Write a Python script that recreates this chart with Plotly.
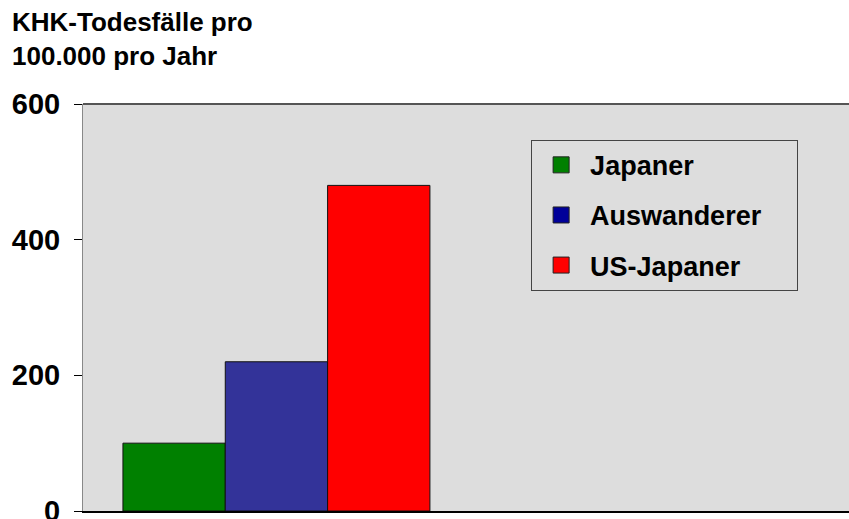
import plotly.graph_objects as go

# Coronary heart disease deaths per 100,000 per year
groups = ["Japaner", "Auswanderer", "US-Japaner"]
deaths = [100, 220, 480]
bar_colors = ["#008000", "#333399", "#FF0000"]
legend_colors = ["#008000", "#000099", "#FF0000"]
category = ["KHK"]
y_ticks = [0, 200, 400, 600]

FONT = "Liberation Sans, Arial, sans-serif"
PAD = "\u00a0" * 4  # right padding inside the legend box

fig = go.Figure()

for name, val, col, lcol in zip(groups, deaths, bar_colors, legend_colors):
    fig.add_trace(go.Bar(
        x=category, y=[val], name=name,
        marker=dict(color=col, line=dict(color="#111111", width=1)),
        showlegend=False, legendgroup=name,
    ))
    # legend entry with a larger square swatch
    fig.add_trace(go.Scatter(
        x=[None], y=[None], mode="markers", name=name + PAD, legendgroup=name,
        marker=dict(symbol="square", size=16, color=lcol,
                    line=dict(color="#222222", width=1)),
    ))

fig.update_layout(
    width=849, height=519,
    margin=dict(l=83, r=0, t=104, b=8),
    paper_bgcolor="white",
    plot_bgcolor="#DDDDDD",
    barmode="group",
    bargap=0.2065,
    bargroupgap=0,
    font=dict(family=FONT, color="black"),
    title=dict(
        text="<b>KHK-Todesfälle pro<br>100.000 pro Jahr</b>",
        x=12 / 849, xanchor="left", xref="container",
        y=1 - 31 / 519, yanchor="top", yref="container",
        font=dict(family=FONT, size=26, color="black"),
    ),
    legend=dict(
        x=0.585, y=0.912, xanchor="left", yanchor="top",
        bgcolor="#DDDDDD", bordercolor="#444444", borderwidth=1,
        font=dict(family=FONT, size=27, color="black", weight="bold"),
        itemsizing="trace", itemwidth=48, tracegroupgap=12,
    ),
    xaxis=dict(
        type="category", range=[-0.5, 1.48],
        showticklabels=False, ticks="",
        showline=True, linecolor="black", linewidth=2,
        showgrid=False, zeroline=False, fixedrange=True,
        automargin=False,
    ),
    yaxis=dict(
        range=[0, 600], tickvals=y_ticks,
        ticks="outside", ticklen=8, tickcolor="black", tickwidth=1,
        ticklabelstandoff=8, ticklabeloverflow="allow",
        tickfont=dict(family=FONT, size=29, color="black", weight="bold"),
        showline=True, linecolor="#888888", linewidth=1,
        showgrid=False, zeroline=False, automargin=False,
    ),
    shapes=[dict(type="line", xref="paper", yref="paper",
                 x0=0, x1=1, y0=1, y1=1,
                 line=dict(color="#555555", width=2))],
)

fig.write_html("out.html")
